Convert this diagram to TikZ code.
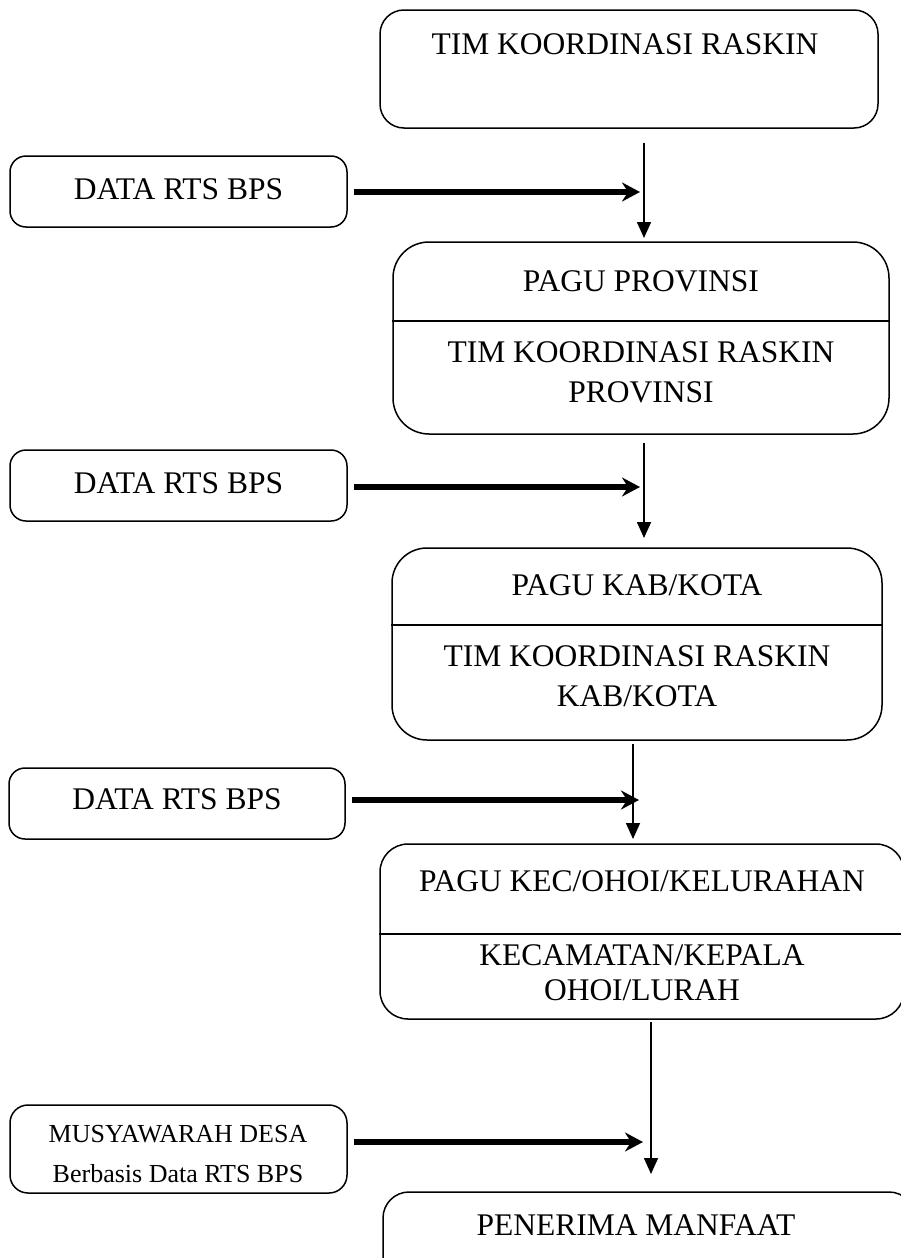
\documentclass[tikz,border=0pt]{standalone}
\usepackage{fontspec}
\setmainfont{Liberation Serif}
\usetikzlibrary{arrows.meta}
\tikzset{
  box/.style={draw=black, line width=1.5pt, inner sep=0pt, fill=none},
  lbl/.style={anchor=base, inner sep=0pt, font=\fontsize{31.5}{37}\selectfont},
  slbl/.style={anchor=base, inner sep=0pt, font=\fontsize{26}{31}\selectfont},
  varrow/.style={line width=1.6pt, -{Triangle[width=14pt,length=16pt]}},
  harrow/.style={line width=5.5pt, -{Stealth[width=19pt,length=18pt,inset=6pt]}, shorten <=6pt},
  divline/.style={line width=1.5pt}
}
\begin{document}
\begin{tikzpicture}[x=1pt,y=-1pt]
\useasboundingbox (0,0) rectangle (901,1258);
\clip (0,0) rectangle (901,1258);
\fill[white] (0,0) rectangle (901,1258);

% top box
\node[box, rounded corners=24pt, minimum width=498pt, minimum height=118pt] (top) at (629,69) {};
\node[lbl] (ttop) at (625,54) {TIM KOORDINASI RASKIN};

% data boxes
\node[box, rounded corners=16pt, minimum width=337pt, minimum height=71pt] (d1) at (178.5,191.5) {};
\node[lbl] (td1) at (178.5,199) {DATA RTS BPS};
\node[box, rounded corners=16pt, minimum width=337pt, minimum height=71pt] (d2) at (178.5,485.5) {};
\node[lbl] (td2) at (178.5,493) {DATA RTS BPS};
\node[box, rounded corners=16pt, minimum width=336pt, minimum height=71pt] (d3) at (177,803.5) {};
\node[lbl] (td3) at (177,809) {DATA RTS BPS};
\node[box, rounded corners=18pt, minimum width=337pt, minimum height=88pt] (d4) at (178.5,1149) {};
\node[slbl] (td4a) at (178,1142) {MUSYAWARAH DESA};
\node[slbl] (td4b) at (178,1182) {Berbasis Data RTS BPS};

% provinsi
\node[box, rounded corners=36pt, minimum width=496pt, minimum height=192pt] (prov) at (641,338) {};
\draw[divline] (prov.west |- 0,321) -- (prov.east |- 0,321);
\node[lbl] (tp1) at (641,291) {PAGU PROVINSI};
\node[lbl] (tp2) at (641,362) {TIM KOORDINASI RASKIN};
\node[lbl] (tp3) at (641,402) {PROVINSI};

% kab/kota
\node[box, rounded corners=35pt, minimum width=490pt, minimum height=192pt] (kab) at (637,644) {};
\draw[divline] (kab.west |- 0,625) -- (kab.east |- 0,625);
\node[lbl] (tk1) at (637,595) {PAGU KAB/KOTA};
\node[lbl] (tk2) at (637,666) {TIM KOORDINASI RASKIN};
\node[lbl] (tk3) at (637,706) {KAB/KOTA};

% kecamatan
\node[box, rounded corners=28pt, minimum width=524pt, minimum height=175pt] (kec) at (642,931.5) {};
\draw[divline] (kec.west |- 0,934) -- (kec.east |- 0,934);
\node[lbl] (tc1) at (642,891) {PAGU KEC/OHOI/KELURAHAN};
\node[lbl] (tc2) at (642,965) {KECAMATAN/KEPALA};
\node[lbl] (tc3) at (642,1000) {OHOI/LURAH};

% penerima
\node[box, rounded corners=26pt, minimum width=532pt, minimum height=108pt] (pen) at (649,1246) {};
\node[lbl] (tpen) at (636,1235) {PENERIMA MANFAAT};

% vertical arrows
\coordinate (v1s) at (644,143); \coordinate (v1e) at (644,238);
\coordinate (v2s) at (644,443); \coordinate (v2e) at (644,538);
\coordinate (v3s) at (633,744); \coordinate (v3e) at (633,839);
\coordinate (v4s) at (651,1022); \coordinate (v4e) at (651,1174);
\draw[varrow] (v1s) -- (v1e);
\draw[varrow] (v2s) -- (v2e);
\draw[varrow] (v3s) -- (v3e);
\draw[varrow] (v4s) -- (v4e);

% horizontal arrows
\coordinate (h1e) at (640,192);
\coordinate (h2e) at (640,487);
\coordinate (h3e) at (639,800);
\coordinate (h4e) at (643,1142);
\draw[harrow] (d1.east |- h1e) -- (h1e);
\draw[harrow] (d2.east |- h2e) -- (h2e);
\draw[harrow] (d3.east |- h3e) -- (h3e);
\draw[harrow] (d4.east |- h4e) -- (h4e);
\end{tikzpicture}
\end{document}
